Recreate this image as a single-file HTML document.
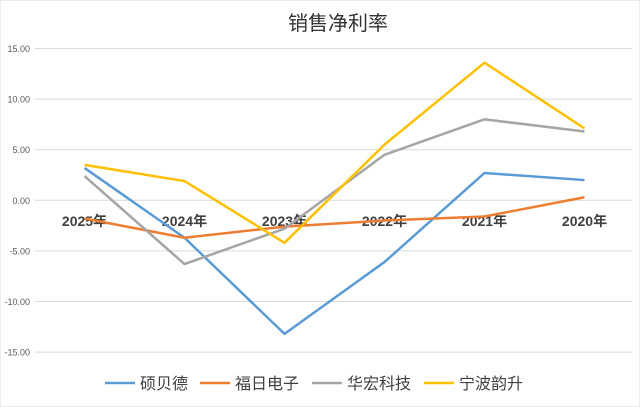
<!DOCTYPE html>
<html><head><meta charset="utf-8"><style>
body{margin:0;background:#fff;}
svg{display:block;font-family:"Liberation Sans","Noto Sans CJK SC",sans-serif;}
</style></head><body>
<svg id="chart" width="640" height="407" viewBox="0 0 640 407">
<rect x="0" y="0" width="640" height="407" fill="#fff" stroke="#d9d9d9"/>
<text x="338" y="30" text-anchor="middle" font-size="20" fill="#333">销售净利率</text>
<g id="grid"></g><g id="ylabels"></g><g id="xlabels"></g><g id="lines"></g><g id="legend"></g>
</svg>
<script>
const categories=["2025年","2024年","2023年","2022年","2021年","2020年"];
const yTicks=[15,10,5,0,-5,-10,-15];
const seriesNames=["硕贝德","福日电子","华宏科技","宁波韵升"];
const seriesColors=["#5b9bd5","#ed7d31","#a5a5a5","#ffc000"];
const s1=[3.2,-3.7,-13.2,-6.1,2.7,2.0];
const s2=[-1.8,-3.7,-2.6,-2.0,-1.6,0.3];
const s3=[2.4,-6.3,-2.8,4.5,8.0,6.8];
const s4=[3.5,1.9,-4.2,5.5,13.6,7.1];
const seriesValues=[s1,s2,s3,s4];
const NS="http://www.w3.org/2000/svg";
const y=v=>200.3-v*10.12;
const x=i=>84.5+i*100;
function mk(t,a,p){const e=document.createElementNS(NS,t);for(const k in a)e.setAttribute(k,a[k]);p.appendChild(e);return e;}
const grid=document.getElementById('grid'),yl=document.getElementById('ylabels'),xl=document.getElementById('xlabels'),ln=document.getElementById('lines'),lg=document.getElementById('legend');
yTicks.forEach(v=>{
 const g=mk('line',{x1:35,x2:632,y1:y(v),y2:y(v),stroke:'#d9d9d9','stroke-width':1},grid);
 
 
 const t=mk('text',{x:30,y:y(v)+3.5,'text-anchor':'end','font-size':9,fill:'#595959'},yl);
 t.textContent=v.toFixed(2);
 
 
});
categories.forEach((c,i)=>{
 const t=mk('text',{x:x(i),y:226,'text-anchor':'middle','font-size':14,'font-weight':'bold',fill:'#404040'},xl);
 t.textContent=c;
 
 
});
seriesValues.forEach((vals,si)=>{
 const p=mk('polyline',{points:vals.map((v,i)=>x(i)+','+y(v)).join(' '),fill:'none',stroke:seriesColors[si],'stroke-width':2.5,'stroke-linejoin':'round'},ln);
 
 
});
const lx=[105,200,312,424];
seriesNames.forEach((n,i)=>{
 const g=mk('g',{},lg);
 
 
 mk('line',{x1:lx[i],x2:lx[i]+30,y1:383,y2:383,stroke:seriesColors[i],'stroke-width':2.5},g);
 const t=mk('text',{x:lx[i]+35,y:389,'font-size':16,fill:'#404040'},g);
 t.textContent=n;
});
</script>
</body></html>
